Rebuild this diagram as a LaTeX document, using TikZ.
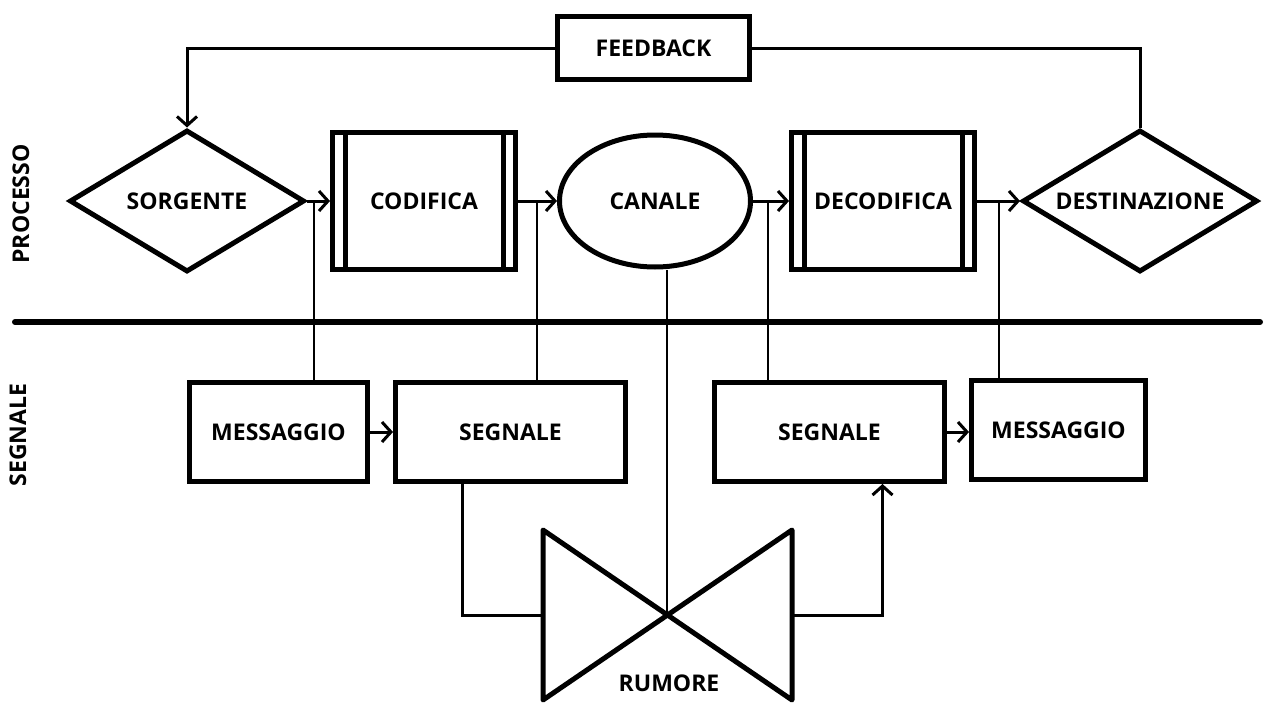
\documentclass[tikz,border=0pt]{standalone}
\usepackage{fontspec}
\setmainfont{Open Sans}
\usetikzlibrary{shapes.geometric,arrows.meta}
\begin{document}
\begin{tikzpicture}[x=1pt,y=-1pt,
  every node/.style={font=\fontsize{23}{26}\selectfont\bfseries},
  thick box/.style={draw,line width=5pt,inner sep=0pt},
  rectbox/.style={thick box,rectangle},
  procbox/.style={thick box,rectangle,minimum width=183pt,minimum height=137pt},
  diam/.style={thick box,diamond,aspect=1.6,minimum width=235pt,minimum height=142pt},
  conn/.style={draw,line width=3pt},
  thinline/.style={draw,line width=1.3pt},
  barb/.style={-{Straight Barb[length=9pt,width=20pt]}},
  bar/.style={line width=5pt}
]
\fill[white] (0,0) rectangle (1264,704);
\useasboundingbox (0,0) rectangle (1264,704);

% labels
\node[rotate=90] (lp) at (21,204) {PROCESSO};
\node[rotate=90] (ls) at (18,435) {SEGNALE};

% top row
\node[rectbox,minimum width=192pt,minimum height=63pt] (fb) at (653.5,48) {FEEDBACK};
\node[diam] (src) at (187,201) {\makebox[0pt]{SORGENTE}};
\node[procbox] (cod) at (424,201) {CODIFICA};
\node[thick box,ellipse,minimum width=191pt,minimum height=132pt] (can) at (655,201) {CANALE};
\node[procbox] (dec) at (883,201) {DECODIFICA};
\node[diam] (dst) at (1140,201) {\makebox[0pt]{DESTINAZIONE}};

% double bars
\draw[bar] ([xshift=15pt]cod.north west) -- ([xshift=15pt]cod.south west);
\draw[bar] ([xshift=-15pt]cod.north east) -- ([xshift=-15pt]cod.south east);
\draw[bar] ([xshift=15pt]dec.north west) -- ([xshift=15pt]dec.south west);
\draw[bar] ([xshift=-15pt]dec.north east) -- ([xshift=-15pt]dec.south east);

% divider
\draw[line width=6pt,line cap=round] (15,322) -- (1260,322);

% bottom row
\node[rectbox,minimum width=178pt,minimum height=99pt] (m1) at (278.5,432) {MESSAGGIO};
\node[rectbox,minimum width=230pt,minimum height=99pt] (s1) at (510.5,432) {SEGNALE};
\node[rectbox,minimum width=230pt,minimum height=99pt] (s2) at (829.5,432) {SEGNALE};
\node[rectbox,minimum width=174pt,minimum height=99pt] (m2) at (1058.5,430) {MESSAGGIO};

% noise bowtie
\coordinate (rum) at (667,615);
\coordinate (bl) at (543,615);
\coordinate (br) at (792,615);
\draw[line width=5pt,line join=round] (543,530) -- (792,700) -- (792,530) -- (543,700) -- cycle;
\node (rt) at (669,683) {RUMORE};

% connectors
\draw[conn,barb] (fb.west) -| (src.north);
\draw[conn] (fb.east) -| (dst.north);
\draw[conn,barb] (src.east) -- (cod.west);
\draw[conn,barb] (cod.east) -- (can.west);
\draw[conn,barb] (can.east) -- (dec.west);
\draw[conn,barb] (dec.east) -- (dst.west);
\draw[conn,barb] (m1.east) -- (s1.west);
\draw[conn,barb] (s2.east) -- (s2.east -| m2.west);
\draw[conn] ([xshift=-48pt]s1.south) |- (bl);
\draw[conn,barb] (br) -| ([xshift=53pt]s2.south);

% thin vertical links
\coordinate (j1) at (314,201);
\coordinate (j2) at (537,201);
\coordinate (j3) at (768,201);
\coordinate (j4) at (999,201);
\draw[thinline] (j1) -- (j1 |- m1.north);
\draw[thinline] (j2) -- (j2 |- s1.north);
\draw[thinline] (j3) -- (j3 |- s2.north);
\draw[thinline] (j4) -- (j4 |- m2.north);
\draw[thinline] (can.south -| rum) -- (rum);
\end{tikzpicture}
\end{document}
